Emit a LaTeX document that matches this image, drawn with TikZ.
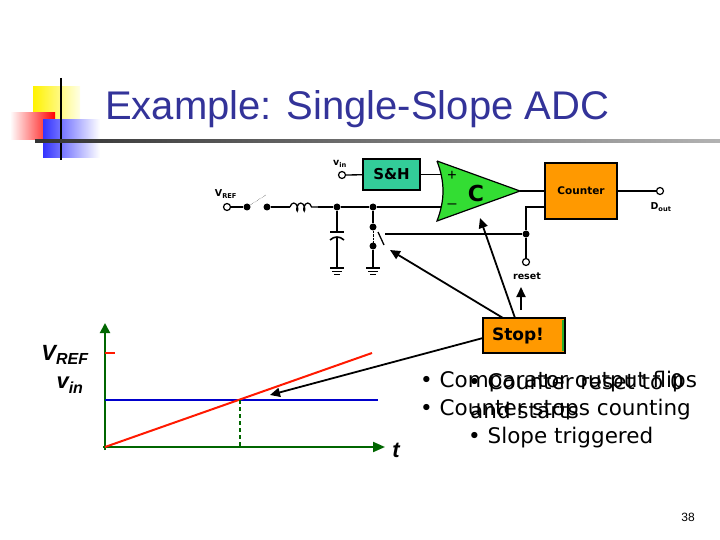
\documentclass[tikz,border=0pt]{standalone}
\usepackage{fontspec}
\setmainfont{Liberation Sans}
\newfontfamily\dv{DejaVu Sans}
\usetikzlibrary{arrows.meta,decorations.pathmorphing}
\definecolor{titleblue}{HTML}{333399}
\definecolor{sh}{HTML}{33CC99}
\definecolor{cmp}{HTML}{33DD33}
\definecolor{org}{HTML}{FF9900}
\definecolor{axg}{HTML}{006600}
\begin{document}
\begin{tikzpicture}[x=1pt,y=-1pt,
 wire/.style={line width=1.3pt},
 dotn/.style={circle,fill=black,inner sep=0pt,minimum size=7pt},
 term/.style={circle,draw,fill=white,line width=1.2pt,inner sep=0pt,minimum size=7pt},
 lbl/.style={font=\dv\bfseries\fontsize{9.5}{10}\selectfont,inner sep=0pt},
 bul/.style={font=\dv\fontsize{21.5}{24}\selectfont,anchor=west,inner sep=0pt},
 call/.style={line width=1.8pt,-{Triangle[length=10pt,width=9pt]}}]
\useasboundingbox (0,0) rectangle (720,540);
% decoration
\shade[left color=yellow!90!orange,right color=yellow!10] (33,87) rectangle (80,120);
\shade[left color=white,right color=red] (10,113) rectangle (55,140);
\shade[left color=blue!80,right color=white] (43,120) rectangle (100,158);
\draw[line width=1.2pt] (61,78) -- (61,160);
\shade[left color=black!80,right color=black!30] (35,140) rectangle (720,142.5);
\node[anchor=base west,text=titleblue,font=\fontsize{40}{44}\selectfont,inner sep=0pt] (title) at (105,120) {Example: Single-Slope ADC};
% circuit
\node[term] (vin) at (342,175) {};
\node[lbl,anchor=south] at (340,168) {v\textsubscript{in}};
\node[draw,fill=sh,line width=1.2pt,minimum width=57pt,minimum height=31pt,font=\dv\bfseries\fontsize{15}{16}\selectfont,inner sep=0pt] (sh) at (391.5,174.5) {S\&H};
\draw[wire] (vin) -- (sh);
\draw[fill=cmp,line width=1.2pt] (437,161) -- (520,191) -- (437,221) .. controls (445,200) and (445,182) .. (437,161);
\node[font=\fontsize{16}{16}\selectfont] (plus) at (452,176) {+};
\node[font=\fontsize{16}{16}\selectfont] (minus) at (452,206) {--};
\node[font=\dv\bfseries\fontsize{22}{22}\selectfont] (C) at (476,193) {C};
\draw[wire] (sh.east) -- (441,174.5);
\node[draw,fill=org,line width=1.2pt,minimum width=72pt,minimum height=56pt,font=\dv\bfseries\fontsize{10.5}{12}\selectfont,inner sep=0pt] (cnt) at (581,191) {Counter};
\draw[wire] (520,191) -- (545,191);
\node[term] (dout) at (660,191) {};
\draw[wire] (617,191) -- (dout);
\node[lbl] at (661,207) {D\textsubscript{out}};
\node[term] (vref) at (227,207) {};
\node[lbl] at (226,194) {V\textsubscript{REF}};
\node[dotn] (n1) at (247,207) {};
\node[dotn] (n2) at (267,207) {};
\node[dotn] (n3) at (337,207) {};
\node[dotn] (n4) at (373,207) {};
\draw[wire] (vref) -- (n1);
\draw[densely dotted] (n1) -- (266,195);
\draw[wire] (n2) -- (290,207);
\draw[wire,decorate,decoration={coil,aspect=0.5,segment length=7pt,amplitude=4pt}] (290,207) -- (318,207);
\draw[wire] (318,207) -- (n3) -- (n4) -- (441,207);
% capacitor
\draw[wire] (n3) -- (337,232);
\draw[line width=1.6pt] (330,232) -- (344,232);
\draw[line width=1.6pt] (330,240) .. controls (334,236) and (340,236) .. (344,240);
\draw[wire] (337,237) -- (337,268);
\foreach \x in {337,373}{\draw[wire] (\x-7,268) -- (\x+7,268); \draw (\x-5,271) -- (\x+5,271); \draw (\x-3,274) -- (\x+3,274);}
% switch
\node[dotn] (s1) at (373,227) {};
\node[dotn] (s2) at (373,246) {};
\draw[wire] (n4) -- (s1); \draw[densely dotted] (s1) -- (s2); \draw[wire] (s2) -- (373,268);
\draw[wire] (378,232) -- (384,245);
\node[dotn] (r1) at (526,234) {};
\draw[wire] (385,234) -- (r1);
\draw[wire] (545,207) -- (526,207) -- (r1);
\node[term] (reset) at (526,262) {};
\draw[wire] (r1) -- (reset);
\node[lbl] at (527,276) {reset};
% stop box
\node[draw,fill=org,line width=1.2pt,minimum width=82pt,minimum height=35pt,font=\dv\bfseries\fontsize{17}{18}\selectfont,inner sep=0pt] (stop) at (524,335.5) {Stop!\hspace*{12pt}};
\draw[cmp!80!black,line width=2pt] (563,320) -- (563,351);
\draw[call] (503,318) -- (390,250);
\draw[call] (515,318) -- (480,218);
\draw[call] (521,310) -- (521,287);
\draw[call] (483,338) -- (270,395);
% graph
\draw[axg,line width=2pt,-{Triangle[length=10pt,width=10pt]}] (105,450) -- (105,323);
\draw[axg,line width=2pt,-{Triangle[length=12pt,width=10pt]}] (103,447) -- (385,447);
\draw[blue!80!black,line width=2pt] (105,400) -- (378,400);
\draw[red!80!orange,line width=2pt] (105,447) -- (372,353);
\draw[red!80!orange,line width=2.5pt] (105,353) -- (115,353);
\draw[axg,line width=2.5pt,dash pattern=on 4pt off 3pt] (240,400) -- (240,447);
\node[font=\bfseries\itshape\fontsize{22}{24}\selectfont] (vreflbl) at (65,355) {V\textsubscript{\fontsize{16}{16}\selectfont REF}};
\node[font=\bfseries\itshape\fontsize{22}{24}\selectfont] (vinlbl) at (70,385) {v\textsubscript{\fontsize{16}{16}\selectfont in}};
\node[font=\bfseries\itshape\fontsize{22}{24}\selectfont] (tlbl) at (396,450) {t};
% bullets
\node[bul] (b1) at (420,382) {• Comparator output flips};
\node[bul] (b2) at (468,382) {• Counter reset to 0};
\node[bul] (b3) at (420,410) {• Counter stops counting};
\node[bul] (b4) at (470,410) {and starts};
\node[bul] (b5) at (468,438) {• Slope triggered};
\node[font=\fontsize{12}{14}\selectfont] (pg) at (688,517) {38};
\end{tikzpicture}
\end{document}
